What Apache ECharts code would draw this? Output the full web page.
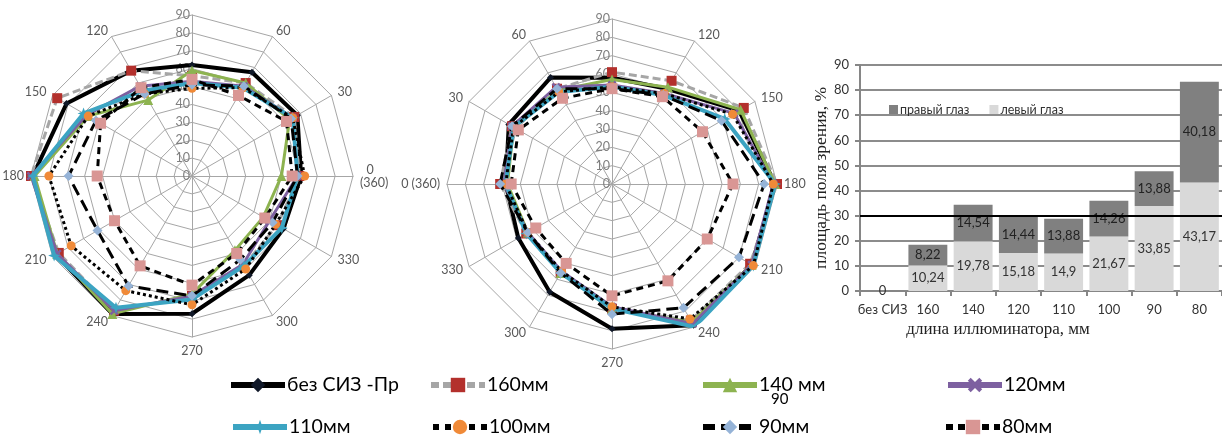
<!DOCTYPE html>
<html><head><meta charset="utf-8">
<script src="https://cdn.jsdelivr.net/npm/echarts@6/dist/echarts.min.js"></script>
<style>html,body{margin:0;padding:0;background:#fff}#c{width:1222px;height:448px}</style>
</head><body><div id="c"></div>
<script>
// ---------- DATA ----------
const angleValues = [0, 30, 60, 90, 120, 150, 180, 210, 240, 270, 300, 330];
const seriesNames = ['без СИЗ -Пр', '160мм', '140 мм', '120мм', '110мм', '100мм', '90мм', '80мм'];
// left radar (values per angle 0..330)
const lNoPPE = [61, 68, 67, 62, 68, 81, 89, 88, 89, 77, 64, 59];
const l160   = [60, 66, 60, 56, 68, 87, 90, 86, 87, 67, 58, 55];
const l140   = [50, 63, 60, 59, 49, 67, 88, 87, 89, 66, 48, 46];
const l120   = [59, 65, 58, 53, 58, 68, 90, 87, 87, 67, 57, 50];
const l110   = [59, 65, 57, 52, 55, 70, 89, 89, 85, 69, 58, 58];
const l100   = [63, 65, 57, 49, 53, 67, 80, 78, 74, 72, 60, 54];
const l90    = [59, 64, 58, 51, 53, 62, 69, 61, 71, 67, 54, 52];
const l80    = [56, 61, 52, 54, 57, 59, 53, 50, 58, 61, 50, 47];
// middle radar
const rNoPPE = [58, 65, 67, 58, 60, 80, 89, 88, 89, 79, 68, 59];
const r160   = [61, 63, 60, 61, 65, 83, 90, 87, 86, 68, 56, 54];
const r140   = [57, 62, 59, 57, 61, 81, 89, 88, 87, 68, 56, 53];
const r120   = [59, 63, 61, 54, 57, 77, 88, 88, 88, 67, 55, 53];
const r110   = [58, 62, 58, 53, 56, 71, 89, 89, 90, 68, 56, 54];
const r100   = [58, 62, 58, 53, 57, 76, 88, 89, 85, 67, 55, 53];
const r90    = [61, 63, 60, 52, 56, 69, 83, 80, 78, 71, 56, 53];
const r80    = [55, 59, 54, 52, 55, 57, 66, 60, 61, 61, 50, 48];
// bar chart
const barCategories = ['без СИЗ', '160', '140', '120', '110', '100', '90', '80'];
const leftEye  = [0, 10.24, 19.78, 15.18, 14.9, 21.67, 33.85, 43.17];
const rightEye = [null, 8.22, 14.54, 14.44, 13.88, 14.26, 13.88, 40.18];
const thresholdValue = 30;

const leftSets = [lNoPPE, l160, l140, l120, l110, l100, l90, l80];
const rightSets = [rNoPPE, r160, r140, r120, r110, r100, r90, r80];

// ---------- STYLES ----------
const X_SYM = 'path://M0,2L2,0L5,3L8,0L10,2L7,5L10,8L8,10L5,7L2,10L0,8L3,5Z';
const STAR_SYM = 'path://M5,0L6.3,3.7L10,5L6.3,6.3L5,10L3.7,6.3L0,5L3.7,3.7Z';
const styles = [
  {line: {color: '#000', width: 4, type: 'solid'}, symbol: 'diamond', size: 7, item: '#101828'},
  {line: {color: '#a6a6a6', width: 3, type: [8, 4]}, symbol: 'rect', size: 10, item: '#b3302c'},
  {line: {color: '#8db350', width: 3, type: 'solid'}, symbol: 'triangle', size: 10, item: '#8db350'},
  {line: {color: '#7d60a0', width: 3, type: 'solid'}, symbol: X_SYM, size: 9, item: '#7d60a0'},
  {line: {color: '#3ca4c2', width: 4, type: 'solid'}, symbol: STAR_SYM, size: 12, item: '#3ca4c2'},
  {line: {color: '#000', width: 3, type: 'dotted'}, symbol: 'circle', size: 9, item: '#f08a38'},
  {line: {color: '#000', width: 3, type: [12, 6]}, symbol: 'diamond', size: 10, item: '#95b3d7'},
  {line: {color: '#000', width: 3, type: [7, 5]}, symbol: 'rect', size: 11, item: '#d99694'}
];

const CAL = 'Lato, "Liberation Sans", sans-serif';
const SERIF = '"Liberation Serif", "Times New Roman", serif';

function closed(vals) {
  const d = vals.map((v, i) => [v, angleValues[i]]);
  d.push({value: [vals[0], 360], symbol: 'none'});
  return d;
}

const series = [];
[leftSets, rightSets].forEach((sets, pi) => {
  sets.forEach((vals, si) => {
    const st = styles[si];
    series.push({
      name: seriesNames[si], type: 'line', coordinateSystem: 'polar', polarIndex: pi,
      data: closed(vals), symbol: st.symbol, symbolSize: st.size, z: 3 + si,
      lineStyle: st.line, itemStyle: {color: st.item}, animation: false
    });
  });
});

series.push({
  name: 'левый глаз', type: 'bar', stack: 'eye', xAxisIndex: 0, yAxisIndex: 0,
  data: leftEye, barCategoryGap: '14%', itemStyle: {color: '#d9d9d9'},
  label: {show: true, position: 'inside', color: '#333', fontSize: 13, fontFamily: CAL,
          formatter: p => String(p.value).replace('.', ',')},
  markLine: {silent: true, symbol: 'none', label: {show: false},
             lineStyle: {color: '#000', width: 2, type: 'solid'}, data: [{yAxis: thresholdValue}]},
  animation: false
});
series.push({
  name: 'правый глаз', type: 'bar', stack: 'eye', xAxisIndex: 0, yAxisIndex: 0,
  data: rightEye, barCategoryGap: '14%', itemStyle: {color: '#808080'},
  label: {show: true, position: 'inside', color: '#222', fontSize: 13, fontFamily: CAL,
          formatter: p => String(p.value).replace('.', ',')},
  animation: false
});

function nameFor(a, style) {
  if (a === 90) return '';
  if (a === 0) return style === 0 ? '  0\n(360)' : '0 (360)';
  return String(a);
}
const leftOrder = angleValues.slice(); // startAngle 0, CCW
const rightOrder = angleValues.map((a, i) => (360 - 30 * i) % 360); // startAngle 180, CCW
function indicators(order, style) {
  return order.map(a => {
    const o = {name: nameFor(a, style), min: 0, max: 90};
    if (a === 90) o.axisLabel = {show: true};
    return o;
  });
}
const radarCommon = {
  shape: 'polygon', splitNumber: 9, nameGap: 7,
  axisName: {color: '#595959', fontSize: 12.5, fontFamily: CAL},
  axisLine: {lineStyle: {color: '#a6a6a6', width: 1}},
  splitLine: {lineStyle: {color: '#a6a6a6', width: 1}},
  splitArea: {show: false},
  axisTick: {show: false},
  axisLabel: {show: false, color: '#7f7f7f', fontSize: 12.5, fontFamily: CAL, margin: 2}
};

const legends = [];
const legendPos = [[228, 375], [428, 375], [700, 375], [945, 375], [230, 417], [430, 417], [700, 417], [943, 417]];
seriesNames.forEach((n, i) => {
  legends.push({
    data: [n], left: legendPos[i][0], top: legendPos[i][1], itemWidth: 54, itemHeight: 18,
    lineStyle: {width: 6}, itemGap: 0, padding: 0,
    textStyle: {fontSize: 19.5, fontFamily: CAL, color: '#000', padding: [0, 0, 0, -3]}
  });
});
legends.push({
  data: ['правый глаз', 'левый глаз'], left: 884, top: 98, icon: 'rect', itemWidth: 9, itemHeight: 9,
  itemGap: 20, textStyle: {fontSize: 12.5, fontFamily: CAL, color: '#333', padding: [0, 0, 0, -3]}
});

const chart = echarts.init(document.getElementById('c'), null, {renderer: 'canvas'});
chart.setOption({
  backgroundColor: '#fff',
  animation: false,
  radar: [
    Object.assign({center: [192, 176], radius: 161, startAngle: 0, indicator: indicators(leftOrder, 0)}, radarCommon),
    Object.assign({center: [612, 184], radius: 165, startAngle: 180, indicator: indicators(rightOrder, 1)}, radarCommon)
  ],
  polar: [{center: [192, 176], radius: 161}, {center: [612, 184], radius: 165}],
  angleAxis: [
    {polarIndex: 0, type: 'value', min: 0, max: 360, startAngle: 0, clockwise: false, show: false},
    {polarIndex: 1, type: 'value', min: 0, max: 360, startAngle: 180, clockwise: true, show: false}
  ],
  radiusAxis: [
    {polarIndex: 0, type: 'value', min: 0, max: 90, show: false},
    {polarIndex: 1, type: 'value', min: 0, max: 90, show: false}
  ],
  grid: [{left: 860, right: -4, top: 65, bottom: 157, containLabel: false}],
  xAxis: [{
    gridIndex: 0, type: 'category', data: barCategories,
    axisLine: {lineStyle: {color: '#868686', width: 2}},
    axisTick: {show: true, interval: 0, length: 5, lineStyle: {color: '#868686', width: 2}},
    axisLabel: {color: '#333', fontSize: 13, fontFamily: CAL, margin: 12, interval: 0},
    name: 'длина иллюминатора, мм', nameLocation: 'middle', nameGap: 27,
    nameTextStyle: {fontFamily: SERIF, fontSize: 17, color: '#222', padding: [0, 86, 0, 0]}
  }],
  yAxis: [{
    gridIndex: 0, type: 'value', min: 0, max: 90, interval: 10,
    axisLine: {show: true, lineStyle: {color: '#868686', width: 2}},
    axisTick: {show: true, length: 5, lineStyle: {color: '#868686', width: 2}},
    axisLabel: {color: '#333', fontSize: 13, fontFamily: CAL, margin: 11},
    splitLine: {lineStyle: {color: '#8c8c8c', width: 2}},
    name: 'площадь поля зрения, %', nameLocation: 'middle', nameGap: 25, nameRotate: 90,
    nameTextStyle: {fontFamily: SERIF, fontSize: 17.5, color: '#222'}
  }],
  legend: legends,
  graphic: [{type: 'text', left: 771, top: 392, z: 100, style: {text: '90', fontSize: 15, fontFamily: CAL, fill: '#000'}}],
  series: series
});
</script></body></html>
